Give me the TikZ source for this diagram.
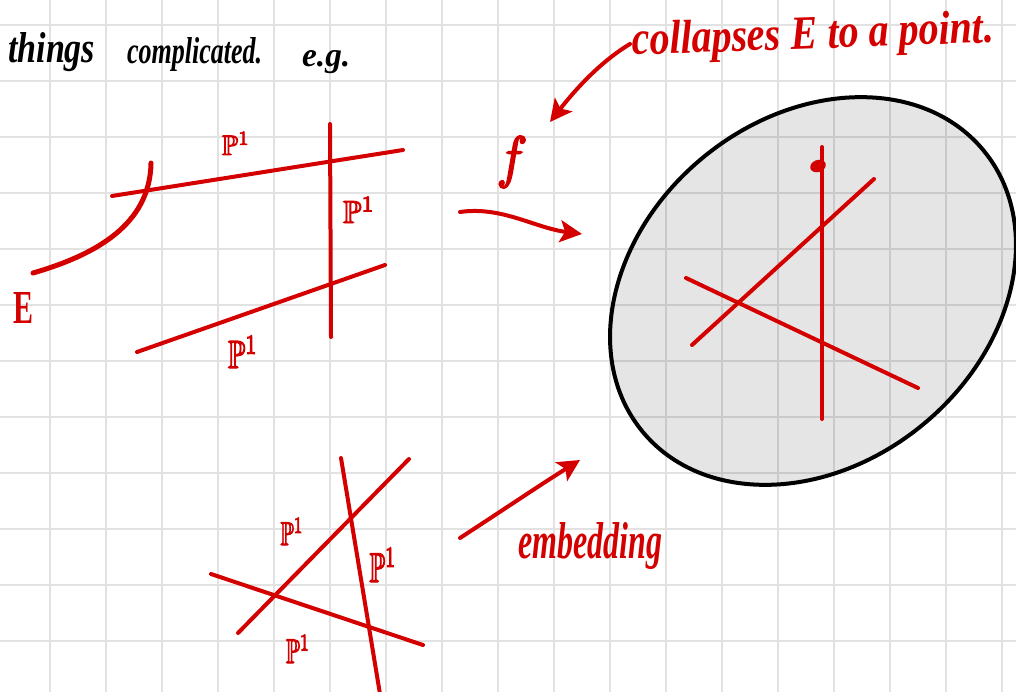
\documentclass[tikz,border=0pt]{standalone}
\usepackage{fontspec}
\usepackage{amssymb}
\usepackage{graphicx}
\usetikzlibrary{arrows.meta}
\newfontfamily\handfont{Liberation Serif}
\definecolor{ink}{RGB}{212,0,0}
\definecolor{gridc}{RGB}{226,226,226}
\newcommand{\hw}[3]{\resizebox{#1pt}{#2pt}{\handfont\bfseries\itshape #3}}
\newcommand{\thick}[1]{\special{pdf:literal direct 2 Tr 0.3 w}#1\special{pdf:literal direct 0 Tr}}
\newcommand{\hwt}[3]{\resizebox*{#1pt}{#2pt}{\thick{#3}}}
\newcommand{\hwp}[3]{\resizebox*{#1pt}{#2pt}{#3}}
\begin{document}
\begin{tikzpicture}[x=1pt,y=-1pt,
  gridline/.style={draw=gridc,line width=2pt},
  redline/.style={draw=ink,line width=4pt,line cap=round},
  redarrow/.style={draw=ink,line width=4pt,line cap=round,-{Stealth[length=22pt,width=22pt,inset=5pt]}},
  blacktext/.style={inner sep=0pt,text=black},
  redtext/.style={inner sep=0pt,text=ink},
  plabel/.style={inner sep=0pt,text=ink}]
\useasboundingbox (0,0) rectangle (1016,692);
\fill[white] (0,0) rectangle (1016,692);
% grid
\foreach \x in {50,106,...,1002} \draw[gridline] (\x,0) -- (\x,692);
\foreach \y in {25,81,...,641} \draw[gridline] (0,\y) -- (1016,\y);
% ellipse (image of f)
\fill[black,fill opacity=0.1,shift={(813,291)},rotate=39.5] (0,0) ellipse [x radius=221pt,y radius=173pt];
\draw[black,line width=4pt,shift={(813,291)},rotate=39.5] (0,0) ellipse [x radius=221pt,y radius=173pt];
% top text
\node[blacktext,anchor=base west] (things) at (8,63) {\hw{87}{30}{things}};
\node[blacktext,anchor=base west] (compl) at (127,64) {\hw{135}{26}{complicated.}};
\node[blacktext,anchor=base west] (eg) at (302,67) {\hw{48}{16}{e.g.}};
\node[redtext,anchor=base west,rotate=2] (collapse) at (632,55) {\hw{362}{33}{collapses E to a point.}};
% left diagram
\draw[redline,line width=5pt] (33,273) .. controls (95,255) and (150,225) .. (151,163);
\draw[redline] (112,196) -- (403,150);
\draw[redline] (330,124) -- (331,337);
\draw[redline] (137,352) -- (385,265);
\node[plabel] (p1) at (236,143.5) {\hwt{28}{23}{$\mathbb{P}^1$}};
\node[plabel] (p2) at (359,210) {\hwt{32}{26}{$\mathbb{P}^1$}};
\node[plabel] (p3) at (243,352) {\hwt{30}{32}{$\mathbb{P}^1$}};
\node[inner sep=0pt,text=ink] (E) at (23,307.5) {\hwp{20}{31}{\handfont\bfseries E}};
% f arrow
\coordinate (fa1) at (460,212);
\coordinate (fa2) at (582,234);
\draw[redarrow] (fa1) .. controls (502,206) and (535,228) .. (fa2);
\node[inner sep=0pt,text=ink] (f) at (512,162) {\hwt{31}{51}{$f$}};
% collapse arrow
\coordinate (ca1) at (630,44);
\coordinate (ca2) at (550,122);
\draw[redarrow] (ca1) .. controls (600,62) and (575,90) .. (ca2);
% right diagram
\draw[redline] (822,147) -- (822,419);
\fill[ink,rotate around={20:(818,166)}] (818,166) ellipse [x radius=8pt,y radius=6pt];
\draw[redline] (692,345) -- (874,179);
\draw[redline] (686,278) -- (918,388);
% bottom diagram
\draw[redline] (238,633) -- (409,459);
\draw[redline] (341,458) -- (380,694);
\draw[redline] (211,574) -- (423,645);
\node[plabel] (p4) at (292,531.5) {\hwt{23}{27}{$\mathbb{P}^1$}};
\node[plabel] (p5) at (383,565) {\hwt{27}{34}{$\mathbb{P}^1$}};
\node[plabel] (p6) at (298,649) {\hwt{24}{28}{$\mathbb{P}^1$}};
% embedding arrow
\coordinate (ea1) at (460,538);
\coordinate (ea2) at (580,460);
\draw[redarrow] (ea1) .. controls (500,512) and (540,485) .. (ea2);
\node[redtext,anchor=base west] (emb) at (518,558) {\hw{144}{36}{embedding}};
\end{tikzpicture}
\end{document}
